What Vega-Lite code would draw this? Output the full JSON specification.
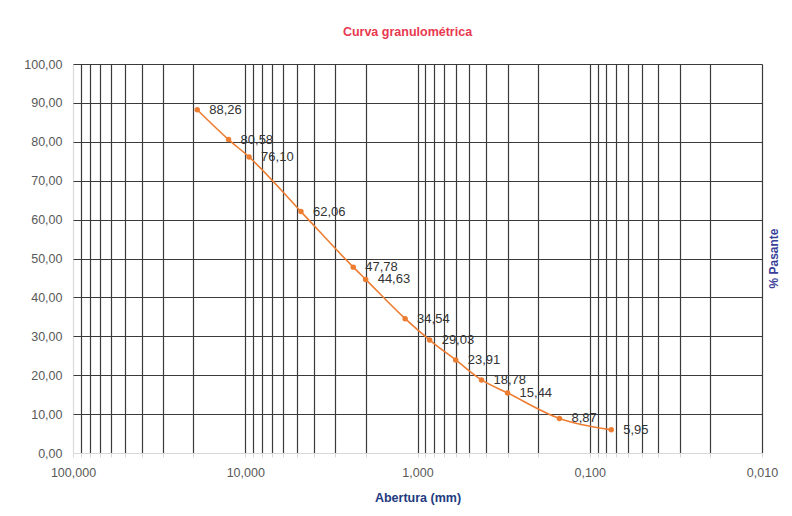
{
  "$schema": "https://vega.github.io/schema/vega-lite/v6.json",
  "width": 689,
  "height": 389,
  "autosize": {"type": "none"},
  "padding": {"left": 73, "top": 64, "right": 30, "bottom": 63},
  "background": "white",
  "title": {
    "text": "Curva granulométrica",
    "fontSize": 12.5,
    "fontWeight": "bold",
    "color": "#e8384f",
    "font": "Liberation Sans",
    "anchor": "middle",
    "dx": -10,
    "offset": 20
  },
  "data": {
    "values": [
      {"ab": 19, "p": 88.26},
      {"ab": 12.5, "p": 80.58},
      {"ab": 9.5, "p": 76.10},
      {"ab": 4.75, "p": 62.06},
      {"ab": 2.36, "p": 47.78},
      {"ab": 2.0, "p": 44.63},
      {"ab": 1.18, "p": 34.54},
      {"ab": 0.85, "p": 29.03},
      {"ab": 0.6, "p": 23.91},
      {"ab": 0.425, "p": 18.78},
      {"ab": 0.3, "p": 15.44},
      {"ab": 0.15, "p": 8.87},
      {"ab": 0.075, "p": 5.95}
    ]
  },
  "encoding": {
    "x": {
      "field": "ab",
      "type": "quantitative",
      "scale": {"type": "log", "domain": [0.01, 100], "reverse": true, "nice": false},
      "axis": {
        "title": "Abertura (mm)",
        "values": [100, 90, 80, 70, 60, 50, 40, 30, 20, 10, 9, 8, 7, 6, 5, 4, 3, 2, 1, 0.9, 0.8, 0.7, 0.6, 0.5, 0.4, 0.3, 0.2, 0.1, 0.09, 0.08, 0.07, 0.06, 0.05, 0.04, 0.03, 0.02, 0.01],
        "format": ".3f",
        "labelExpr": "abs(log(datum.value)/LN10 - round(log(datum.value)/LN10)) < 0.001 ? datum.label : ''",
        "grid": true,
        "gridColor": {"condition": {"test": "datum.value == 100", "value": "#d9d9d9"}, "value": "#3a3a3a"},
        "gridWidth": 1.2,
        "domainColor": "#d9d9d9",
        "tickColor": "#d9d9d9",
        "tickSize": 4,
        "labelPadding": 9,
        "labelFont": "Liberation Sans",
        "labelFontSize": 12.5,
        "labelColor": "#595959",
        "labelFlush": false,
        "labelOverlap": false,
        "titleFont": "Liberation Sans",
        "titleFontSize": 12.5,
        "titleFontWeight": "bold",
        "titleColor": "#233a80",
        "titleY": 44,
        "titleBaseline": "middle"
      }
    },
    "y": {
      "field": "p",
      "type": "quantitative",
      "scale": {"domain": [0, 100], "nice": false},
      "axis": {
        "title": "% Pasante",
        "values": [0, 10, 20, 30, 40, 50, 60, 70, 80, 90, 100],
        "format": ".2f",
        "grid": true,
        "gridColor": {"condition": {"test": "datum.value == 0", "value": "#d9d9d9"}, "value": "#3a3a3a"},
        "gridWidth": 1.2,
        "domain": false,
        "ticks": false,
        "labelOverlap": false,
        "labelPadding": 11,
        "labelFont": "Liberation Sans",
        "labelFontSize": 12.5,
        "labelColor": "#595959",
        "titleFont": "Liberation Sans",
        "titleFontSize": 12,
        "titleFontWeight": "bold",
        "titleColor": "#3a3f9a",
        "titleAngle": -90,
        "titleX": 700,
        "titleY": 194,
        "titleAlign": "center",
        "titleBaseline": "middle"
      }
    }
  },
  "layer": [
    {
      "mark": {
        "type": "line",
        "interpolate": "monotone",
        "color": "#ED7D31",
        "strokeWidth": 1.6,
        "point": {"filled": true, "size": 30, "color": "#ED7D31"}
      },
      "encoding": {
        "order": {"field": "ab", "sort": "descending"}
      }
    },
    {
      "mark": {
        "type": "text",
        "align": "left",
        "baseline": "middle",
        "dx": 12,
        "font": "Liberation Sans",
        "fontSize": 13,
        "color": "#333333"
      },
      "encoding": {
        "text": {"field": "p", "type": "quantitative", "format": ".2f"}
      }
    }
  ],
  "config": {
    "view": {"stroke": null},
    "locale": {
      "number": {"decimal": ",", "thousands": ".", "grouping": [3], "currency": ["", " €"]}
    }
  }
}
